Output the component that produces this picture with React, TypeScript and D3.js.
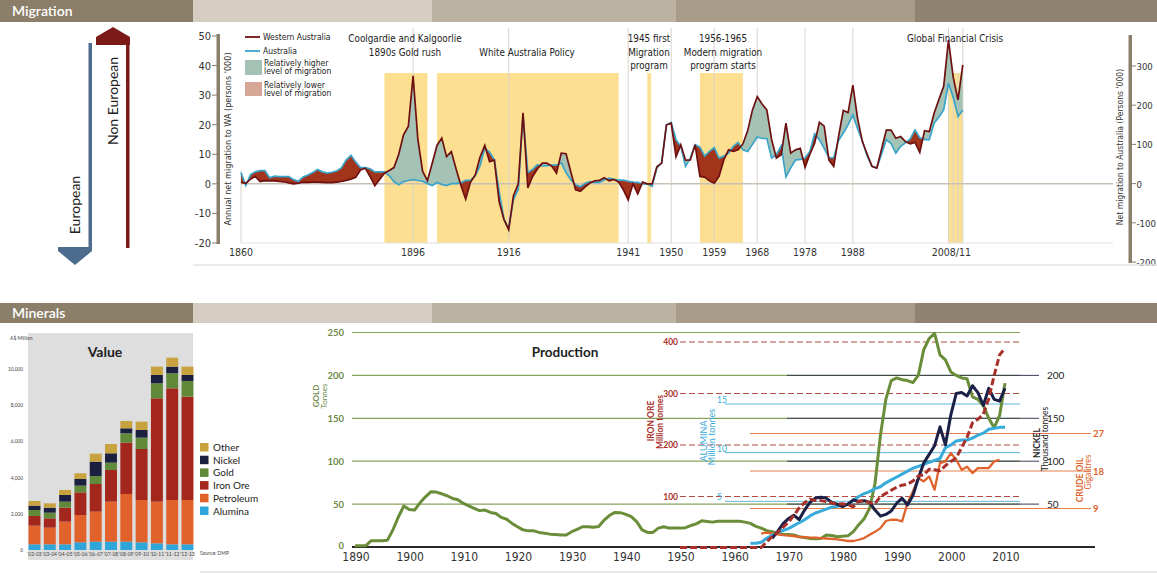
import React from "react";
import * as d3 from "d3";

// ---------------- DATA ----------------
const MIG_START = 1860;
// Annual net migration to WA ('000), 1860-2011
const MIG_WA = [
  0.5, 0.2, 1.6, 2.5, 0.8, 1.1, 1.0, 1.0, 0.8, 0.7,
  0.3, 0.0, 0.2, 0.6, 0.5, 0.6, 0.6, 0.5, 0.4, 0.4,
  0.6, 0.8, 1.2, 1.6, 2.2, 4.7, 5.3, 2.5, -0.6, 1.5,
  3.6, 4.5, 5.5, 10.0, 16.6, 19.4, 36.5, 15.0, 4.2, 1.1,
  7.0, 13.0, 15.5, 9.2, 10.9, 5.0, -0.5, -5.2, 0.5, 3.0,
  9.0, 13.0, 7.5, 8.0, -6.0, -12.0, -15.5, -4.0, 0.0, 24.0,
  -1.4, 2.5, 5.0, 7.0, 7.0, 6.0, 3.6, 10.4, 10.2, 4.0,
  -2.0, -2.5, -1.0, 0.3, 1.0, 1.2, 2.1, 1.0, 1.5, 0.6,
  -2.0, -5.4, 0.0, -3.4, 0.6, 0.0, 0.0, 5.8, 7.0, 19.9,
  20.5, 9.2, 13.2, 8.0, 8.1, 13.2, 2.5, 2.3, 1.0, 0.2,
  2.5, 8.1, 11.5, 11.0, 11.5, 13.5, 18.0, 25.0, 29.5, 27.0,
  25.0, 15.0, 8.7, 9.8, 20.5, 10.4, 11.5, 12.0, 5.6, 10.0,
  13.7, 20.8, 19.5, 8.0, 5.9, 16.0, 24.8, 24.1, 33.4, 22.0,
  14.3, 10.0, 5.9, 5.3, 11.7, 18.2, 18.2, 15.4, 16.0, 14.3,
  13.5, 14.0, 10.6, 18.0, 17.7, 23.9, 28.5, 33.0, 48.6, 36.0,
  28.4, 40.2,
];
// Net migration to Australia ('000), 1860-2011
const MIG_AUS = [
  28, -5, 23, 30, 33, 33, 15, 19, 18, 18,
  18, 10, 6, 17, 22, 28, 36, 30, 27, 29,
  32, 40, 60, 72, 55, 41, 41, 38, 30, 30,
  30, 20, 5, -3, 5, 8, 10, 8, 6, 0,
  -5, 3, -2, -5, 0, 0, 2, 8, 8, 20,
  45, 91, 80, 61, -20, -90, -115, -40, -15, 175,
  28, 36, 48, 45, 46, 47, 47, 53, 28, 10,
  -3, -8, 1, 5, 3, 3, 9, 14, 11, 9,
  9, 6, 4, 3, -1, -1, -7, 40, 53, 150,
  156, 112, 95, 44, 65, 99, 93, 70, 82, 92,
  65, 70, 78, 95, 105, 86, 82, 100, 119, 115,
  115, 65, 74, 96, 17, 40, 60, 62, 65, 82,
  127, 112, 90, 66, 66, 110, 129, 150, 175, 140,
  108, 70, 44, 40, 75, 112, 102, 78, 95, 104,
  114, 137, 117, 112, 112, 154, 170, 188, 256, 220,
  171, 188,
];
const MIG_TICK_YEARS = [1860, 1896, 1916, 1941, 1950, 1959, 1968, 1978, 1988];
const MIG_GRID_YEARS = [1896, 1916, 1941, 1950, 1959, 1968, 1978, 1988, 2008, 2009, 2010, 2011];
const BAND_START = [1890, 1901, 1945, 1956, 2008];
const BAND_END = [1899, 1939, 1945.8, 1965, 2011];
const LEFT_TICKS = [-20, -10, 0, 10, 20, 30, 40, 50];
const RIGHT_TICKS = [-200, -100, 0, 100, 200, 300];

// Production
const GOLD_START = 1890;
const GOLD = [
  1.5, 1.5, 1.5, 7.4, 7.4, 7.4, 8, 20, 35, 47.7,
  43.8, 43, 51.5, 58.5, 64.3, 64, 62, 59.7, 56.6, 55,
  50.8, 48, 45, 42.4, 43, 40.3, 39, 34.5, 32.3, 27.5,
  23.6, 20, 18.8, 18.8, 17, 16, 15, 14.7, 14, 14,
  17.8, 20.5, 23.6, 23.6, 23, 24, 31.4, 37, 40.3, 40,
  38, 35.3, 29.5, 20, 17, 17, 22, 23.6, 22, 22,
  22, 22.5, 25, 27, 30.5, 29.7, 29, 30, 30, 30,
  30, 30, 29, 27.5, 24, 22, 19, 17.8, 16, 15,
  14.5, 14, 12, 11, 10, 9.6, 10, 14, 13.5, 12,
  12.5, 13, 18, 26, 33, 45, 74, 130, 172, 194,
  197, 195, 194, 191.5, 200, 230, 243, 249, 224, 218,
  204, 200, 197, 196, 175, 172, 165, 150, 139, 153,
  191,
];
const IRON_START = 1950;
const IRON = [
  1, 1, 1, 1, 1, 1, 1, 1, 1, 1,
  1, 1, 1, 1, 1, 1, 12, 22, 30, 40,
  50, 63, 78, 88, 95, 92, 92, 90, 88, 85,
  86, 84, 80, 91, 92, 88, 86, 100, 106, 112,
  118, 122, 124, 130, 140, 142, 153, 152, 150, 160,
  168, 175, 195, 215, 243, 250, 260, 290, 335, 375,
  388,
];
const NICKEL_START = 1967;
const NICKEL = [
  10, 18, 27, 33, 37, 32, 43, 52, 57, 58,
  57, 52, 50, 47, 50, 55, 53, 54, 52, 43,
  36, 38, 42, 51, 57, 49, 60, 80, 98, 108,
  118, 140, 119, 154, 179, 180, 176, 188, 180, 165,
  185, 172, 170, 185,
];
const ALU_START = 1963;
const ALUMINA = [
  0.7, 0.7, 0.8, 1.2, 1.5, 1.8, 2.0, 2.2, 2.5, 2.8,
  3.1, 3.5, 3.8, 4.0, 4.2, 4.4, 4.5, 4.6, 4.7, 5.1,
  5.5, 5.8, 6.0, 6.3, 6.5, 6.9, 7.2, 7.5, 7.8, 8.1,
  8.4, 8.6, 8.8, 9.0, 9.2, 9.4, 10.5, 10.8, 11.2, 11.3,
  11.3, 11.5, 11.8, 12.0, 12.4, 12.5, 12.6, 12.6,
];
const OIL_START = 1965;
const OIL = [
  3.0, 3.2, 3.0, 2.8, 2.6, 2.5, 2.4, 2.2, 2.1, 2.0,
  2.0, 1.9, 1.8, 1.7, 1.6, 1.4, 1.2, 1.2, 1.5, 1.9,
  2.7, 3.4, 4.3, 6.0, 6.3, 6.3, 5.9, 10.3, 13.1, 16.3,
  15.5, 16.7, 13.5, 19.9, 20.3, 22.3, 20.7, 18.3, 19.0, 17.5,
  18.7, 18.7, 18.7, 20.3, 20.7,
];
const GOLD_TICKS = [0, 50, 100, 150, 200, 250];
const IRON_TICKS = [100, 200, 300, 400];
const ALU_TICKS = [5, 10, 15];
const NICKEL_TICKS = [50, 100, 150, 200];
const OIL_TICKS = [9, 18, 27];
const PROD_YEARS = [1890, 1900, 1910, 1920, 1930, 1940, 1950, 1960, 1970, 1980, 1990, 2000, 2010];

// Value (A$ million)
const VALUE_CATS = ["'02-03", "'03-04", "'04-05", "'05-06", "'06-07", "'07-08", "'08-09", "'09-10", "'10-11", "'11-12", "'12-13"];
const VALUE_KEYS = ["Alumina", "Petroleum", "Iron Ore", "Gold", "Nickel", "Other"];
const V_ALUMINA = [313, 313, 313, 424, 460, 460, 460, 424, 368, 313, 313];
const V_PETROLEUM = [1032, 921, 1253, 1510, 1658, 2211, 2635, 2339, 2303, 2450, 2450];
const V_IRON = [534, 516, 774, 1253, 1529, 1750, 2836, 2818, 5710, 6171, 5710];
const V_GOLD = [331, 313, 331, 368, 442, 405, 516, 626, 829, 829, 866];
const V_NICKEL = [240, 277, 368, 368, 792, 516, 276, 424, 461, 368, 332];
const V_OTHER = [258, 239, 277, 314, 442, 515, 406, 461, 460, 497, 460];
const VALUE_TICKS = [0, 2000, 4000, 6000, 8000, 10000];

// ---------------- STYLE ----------------
const FN = "'Liberation Sans Narrow','DejaVu Sans Condensed','Roboto Condensed',Roboto,sans-serif";
const FS = "Lato,'Open Sans','Noto Sans',sans-serif";
const C_WA = "#6e1010";
const C_AUS = "#3aa3c9";
const C_HIGH = "#a4c3b5";
const C_LOW = "#a2341b";
const C_BAND = "#fcdf90";
const C_TAUPE = "#8c7f6a";
const VALUE_COLORS: Record<string, string> = {
  Alumina: "#2ea6da",
  Petroleum: "#e2622c",
  "Iron Ore": "#a3271d",
  Gold: "#608a3a",
  Nickel: "#1b1f40",
  Other: "#c8a23f",
};
const C_GOLD = "#6a8d39";
const C_IRON = "#a8302a";
const C_ALU = "#38abda";
const C_NICKEL = "#1b2047";
const C_OIL = "#e0632b";

const HEADER_X = [0, 193, 432, 676, 915, 1157];
const HEADER_C = ["#8c7f6a", "#d5cdc1", "#bcb2a1", "#a89c88", "#8f8270"];

function Header({ y, h, label }: { y: number; h: number; label: string }) {
  return (
    <g>
      {HEADER_C.map((c, i) => (
        <rect key={i} x={HEADER_X[i]} y={y} width={HEADER_X[i + 1] - HEADER_X[i]} height={h} fill={c} />
      ))}
      <text x={12} y={y + h / 2 + 5} fill="#fff" fontFamily={FS} fontSize={14} fontWeight={600}>
        {label}
      </text>
    </g>
  );
}

function Migration() {
  const xM = d3.scaleLinear().domain([1860, 2011]).range([241, 962.8]);
  const yL = d3.scaleLinear().domain([-20, 50]).range([243, 36]);
  const yR = d3.scaleLinear().domain([-200, 300]).range([262, 66]);
  const data = MIG_WA.map((wa, i) => ({ year: MIG_START + i, wa, aus: MIG_AUS[i] }));
  type D = (typeof data)[number];
  const waLine = d3.line<D>().x((d) => xM(d.year)).y((d) => yL(d.wa));
  const ausLine = d3.line<D>().x((d) => xM(d.year)).y((d) => yR(d.aus));
  const diff = d3.area<D>().x((d) => xM(d.year)).y0((d) => yR(d.aus)).y1((d) => yL(d.wa));
  const clipA = d3.area<D>().x((d) => xM(d.year)).y0(0).y1((d) => yR(d.aus));
  const clipB = d3.area<D>().x((d) => xM(d.year)).y0(300).y1((d) => yR(d.aus));

  return (
    <g>
      <defs>
        <clipPath id="clipAbove"><path d={clipA(data) || ""} /></clipPath>
        <clipPath id="clipBelow"><path d={clipB(data) || ""} /></clipPath>
      </defs>
      {/* arrows */}
      <rect x={88.5} y={43} width={3.5} height={205} fill="#4d6b8c" />
      <polygon points="58,247 92,247 92,251 75,265 58,251" fill="#4d6b8c" />
      <rect x={126} y={44} width={3.5} height={204} fill="#7c1a1a" />
      <polygon points="96,45 96,37 113,27 130,37 130,45" fill="#7c1a1a" />
      <text transform="translate(80,205) rotate(-90)" textAnchor="middle" fontFamily={FS} fontSize={14} fill="#222">European</text>
      <text transform="translate(118,101) rotate(-90)" textAnchor="middle" fontFamily={FS} fontSize={14} fill="#222">Non European</text>

      {/* bands */}
      {BAND_START.map((s, i) => (
        <rect key={i} x={xM(s)} y={73} width={xM(BAND_END[i]) - xM(s)} height={243 - 73} fill={C_BAND} />
      ))}
      {/* grid */}
      {MIG_GRID_YEARS.map((yr) => (
        <line key={yr} x1={xM(yr)} x2={xM(yr)} y1={yr >= 2009 && yr <= 2010 ? 73 : 28} y2={243} stroke="#d8d4cd" strokeWidth={1} />
      ))}
      <line x1={xM(1860)} x2={xM(1860)} y1={170} y2={243} stroke="#d8d4cd" />
      <line x1={241} x2={1113} y1={yL(0)} y2={yL(0)} stroke="#c9c1b6" strokeWidth={1.5} />
      <line x1={241} x2={1113} y1={243} y2={243} stroke="#e4e0da" strokeWidth={1} />

      {/* difference areas */}
      <path d={diff(data) || ""} fill={C_HIGH} clipPath="url(#clipAbove)" />
      <path d={diff(data) || ""} fill={C_LOW} clipPath="url(#clipBelow)" />
      <path d={ausLine(data) || ""} fill="none" stroke={C_AUS} strokeWidth={1.7} />
      <path d={waLine(data) || ""} fill="none" stroke={C_WA} strokeWidth={1.7} />

      {/* left axis */}
      <rect x={216.5} y={34} width={3.5} height={210} fill={C_TAUPE} />
      {LEFT_TICKS.map((t) => (
        <g key={t}>
          <line x1={212} x2={217} y1={yL(t)} y2={yL(t)} stroke={C_TAUPE} strokeWidth={1} />
          <text x={211} y={yL(t) + 4} textAnchor="end" fontFamily={FN} fontSize={11} fill="#333">{t}</text>
        </g>
      ))}
      <text transform="translate(231,139) rotate(-90)" textAnchor="middle" fontFamily={FN} fontSize={9} fill="#333">
        Annual net migration to WA (persons '000)
      </text>
      {/* right axis */}
      <rect x={1128.5} y={35} width={3.5} height={228} fill={C_TAUPE} />
      {RIGHT_TICKS.map((t) => (
        <g key={t}>
          <line x1={1132} x2={1136} y1={yR(t)} y2={yR(t)} stroke={C_TAUPE} strokeWidth={1} />
          <text x={1136.5} y={yR(t) + 4} fontFamily={FN} fontSize={9.5} fill="#333">{t}</text>
        </g>
      ))}
      <text transform="translate(1123,147) rotate(-90)" textAnchor="middle" fontFamily={FN} fontSize={8.5} fill="#333">
        Net migration to Australia (Persons '000)
      </text>

      {/* x labels */}
      {MIG_TICK_YEARS.map((yr) => (
        <text key={yr} x={xM(yr)} y={256} textAnchor="middle" fontFamily={FN} fontSize={10.5} fill="#333">{yr}</text>
      ))}
      <text x={xM(2008.6)} y={256} textAnchor="middle" fontFamily={FN} fontSize={10.5} fill="#333">2008/11</text>

      {/* legend */}
      <line x1={245} x2={260} y1={37} y2={37} stroke={C_WA} strokeWidth={1.8} />
      <text x={263} y={40} fontFamily={FN} fontSize={8.5} fill="#222">Western Australia</text>
      <line x1={245} x2={260} y1={51} y2={51} stroke={C_AUS} strokeWidth={1.8} />
      <text x={263} y={54} fontFamily={FN} fontSize={8.5} fill="#222">Australia</text>
      <rect x={245} y={60} width={17} height={15} fill={C_HIGH} />
      <text x={264} y={66} fontFamily={FN} fontSize={8.5} fill="#222">Relatively higher</text>
      <text x={264} y={74} fontFamily={FN} fontSize={8.5} fill="#222">level of migration</text>
      <rect x={245} y={82} width={17} height={14} fill="#d6a797" />
      <text x={264} y={88} fontFamily={FN} fontSize={8.5} fill="#222">Relatively lower</text>
      <text x={264} y={96} fontFamily={FN} fontSize={8.5} fill="#222">level of migration</text>

      {/* annotations */}
      <g fontFamily={FN} fontSize={9.8} fill="#222" textAnchor="middle">
        <text x={405} y={42}>Coolgardie and Kalgoorlie</text>
        <text x={405} y={56}>1890s Gold rush</text>
        <text x={527} y={56}>White Australia Policy</text>
        <text x={649} y={42}>1945 first</text>
        <text x={649} y={56}>Migration</text>
        <text x={649} y={69}>program</text>
        <text x={723} y={42}>1956-1965</text>
        <text x={723} y={56}>Modern migration</text>
        <text x={723} y={69}>program starts</text>
        <text x={955} y={42}>Global Financial Crisis</text>
      </g>
      <line x1={193} x2={1157} y1={265} y2={265} stroke="#e6e3de" strokeWidth={1.5} />
    </g>
  );
}

function ValueChart() {
  const rows = VALUE_CATS.map((c, i) => ({
    cat: c,
    Alumina: V_ALUMINA[i],
    Petroleum: V_PETROLEUM[i],
    "Iron Ore": V_IRON[i],
    Gold: V_GOLD[i],
    Nickel: V_NICKEL[i],
    Other: V_OTHER[i],
  }));
  const xV = d3.scaleBand().domain(VALUE_CATS).range([27, 195]).paddingInner(0.22).paddingOuter(0.1);
  const yV = d3.scaleLinear().domain([0, 10000]).range([550, 369]);
  const series = d3.stack<any>().keys(VALUE_KEYS)(rows);
  const fmt = d3.format(",");
  const legendOrder = [...VALUE_KEYS].reverse();
  return (
    <g>
      <rect x={28} y={333} width={165} height={227} fill="#dedede" />
      <text x={10} y={340} fontFamily={FS} fontSize={5} fill="#444">A$ Million</text>
      {VALUE_TICKS.map((t) => (
        <text key={t} x={23} y={yV(t) + 2} textAnchor="end" fontFamily={FS} fontSize={4.8} fill="#444">{fmt(t)}</text>
      ))}
      <text x={105} y={357} textAnchor="middle" fontFamily={FS} fontSize={14} fontWeight={700} fill="#222">Value</text>
      {series.map((s) => (
        <g key={s.key} fill={VALUE_COLORS[s.key]}>
          {s.map((d, i) => (
            <rect key={i} x={xV(VALUE_CATS[i])} y={yV(d[1])} width={xV.bandwidth()} height={yV(d[0]) - yV(d[1])} />
          ))}
        </g>
      ))}
      {VALUE_CATS.map((c) => (
        <text key={c} x={(xV(c) || 0) + xV.bandwidth() / 2} y={555.5} textAnchor="middle" fontFamily={FS} fontSize={5} fill="#444">{c}</text>
      ))}
      {legendOrder.map((k, i) => (
        <g key={k}>
          <rect x={200} y={443 + i * 12.7} width={8.5} height={8.5} fill={VALUE_COLORS[k]} />
          <text x={213} y={451 + i * 12.7} fontFamily={FS} fontSize={10} fill="#222">{k}</text>
        </g>
      ))}
      <text x={200} y={555} fontFamily={FS} fontSize={5} fill="#444">Source: DMP</text>
    </g>
  );
}

function Production() {
  const xP = d3.scaleLinear().domain([1890, 2010]).range([355, 1005]);
  const yGold = d3.scaleLinear().domain([0, 250]).range([547, 332.5]);
  const yIron = d3.scaleLinear().domain([0, 400]).range([548, 342]);
  const yAlu = d3.scaleLinear().domain([0, 15]).range([550, 404]);
  const yOil = d3.scaleLinear().domain([0, 27]).range([546, 433.5]);
  const mk = (start: number, vals: number[]) => vals.map((v, i) => ({ year: start + i, v }));
  const line = (y: d3.ScaleLinear<number, number>) =>
    d3.line<{ year: number; v: number }>().x((d) => xP(d.year)).y((d) => y(d.v));
  return (
    <g>
      {/* gold grid */}
      {GOLD_TICKS.map((t) => (
        <g key={"g" + t}>
          {t > 0 && <line x1={352} x2={1020} y1={yGold(t)} y2={yGold(t)} stroke="#86a25c" strokeWidth={1.2} />}
          <text x={344} y={yGold(t) + (t === 0 ? 1.5 : 3.5)} textAnchor="end" fontFamily={FS} fontSize={9.5} fontWeight={700} fill="#6e8a48">{t}</text>
        </g>
      ))}
      {/* nickel grid */}
      {NICKEL_TICKS.map((t) => (
        <g key={"n" + t}>
          <line x1={787} x2={1039} y1={yGold(t)} y2={yGold(t)} stroke="#3a3f55" strokeWidth={1} />
          <text x={1047} y={yGold(t) + 4} fontFamily={FS} fontSize={10} fill="#222">{t}</text>
        </g>
      ))}
      {/* iron grid */}
      {IRON_TICKS.map((t) => (
        <g key={"i" + t}>
          <line x1={680} x2={1020} y1={yIron(t)} y2={yIron(t)} stroke="#b44a3f" strokeWidth={1.2} strokeDasharray="6,3" />
          <text x={678} y={yIron(t) + 3} textAnchor="end" fontFamily={FS} fontSize={8.5} fontWeight={700} fill={C_IRON}>{t}</text>
        </g>
      ))}
      {/* alumina grid */}
      {ALU_TICKS.map((t) => (
        <g key={"a" + t}>
          <line x1={725} x2={1020} y1={yAlu(t)} y2={yAlu(t)} stroke="#5db6de" strokeWidth={1} />
          <text x={717} y={yAlu(t) - 1} fontFamily={FS} fontSize={8.5} fill={C_ALU}>{t}</text>
        </g>
      ))}
      {/* oil grid */}
      {OIL_TICKS.map((t) => (
        <g key={"o" + t}>
          <line x1={750} x2={1091} y1={yOil(t)} y2={yOil(t)} stroke="#e4804f" strokeWidth={1} />
          <text x={1093} y={yOil(t) + 3.5} fontFamily={FS} fontSize={9.5} fontWeight={700} fill={C_OIL}>{t}</text>
        </g>
      ))}

      {/* axis titles */}
      <text x={565} y={357} textAnchor="middle" fontFamily={FS} fontSize={13.5} fontWeight={700} fill="#222">Production</text>
      <text transform="translate(319,396) rotate(-90)" textAnchor="middle" fontFamily={FS} fontSize={8} fontWeight={700} fill="#6e8a48">GOLD</text>
      <text transform="translate(327,396) rotate(-90)" textAnchor="middle" fontFamily={FS} fontSize={8} fill="#6e8a48">Tonnes</text>
      <text transform="translate(654,421) rotate(-90)" textAnchor="middle" fontFamily={FS} fontSize={8.5} fontWeight={700} fill={C_IRON}>IRON ORE</text>
      <text transform="translate(663,422) rotate(-90)" textAnchor="middle" fontFamily={FS} fontSize={8.5} fontWeight={700} fill={C_IRON}>Million tonnes</text>
      <text transform="translate(707,441) rotate(-90)" textAnchor="middle" fontFamily={FS} fontSize={9} fill={C_ALU}>ALUMINA</text>
      <text transform="translate(715,437) rotate(-90)" textAnchor="middle" fontFamily={FS} fontSize={9} fill={C_ALU}>Million tonnes</text>
      <text transform="translate(1040,443) rotate(-90)" textAnchor="middle" fontFamily={FS} fontSize={8.5} fontWeight={700} fill="#222">NICKEL</text>
      <text transform="translate(1048,439) rotate(-90)" textAnchor="middle" fontFamily={FS} fontSize={8.5} fill="#222">Thousand tonnes</text>
      <text transform="translate(1083,480) rotate(-90)" textAnchor="middle" fontFamily={FS} fontSize={8.5} fontWeight={700} fill={C_OIL}>CRUDE OIL</text>
      <text transform="translate(1091,472) rotate(-90)" textAnchor="middle" fontFamily={FS} fontSize={8.5} fill={C_OIL}>Gigalitres</text>

      {/* baseline */}
      <line x1={352} x2={1095} y1={547} y2={547} stroke="#2a2a2a" strokeWidth={2} />

      {/* series */}
      <path d={line(yGold)(mk(GOLD_START, GOLD)) || ""} fill="none" stroke={C_GOLD} strokeWidth={3} strokeLinejoin="round" />
      <path d={line(yOil)(mk(OIL_START, OIL)) || ""} fill="none" stroke={C_OIL} strokeWidth={2.3} strokeLinejoin="round" />
      <path d={line(yAlu)(mk(ALU_START, ALUMINA)) || ""} fill="none" stroke={C_ALU} strokeWidth={3} strokeLinejoin="round" />
      <path d={line(yGold)(mk(NICKEL_START, NICKEL)) || ""} fill="none" stroke={C_NICKEL} strokeWidth={3} strokeLinejoin="round" />
      <path d={line(yIron)(mk(IRON_START, IRON)) || ""} fill="none" stroke={C_IRON} strokeWidth={3} strokeDasharray="7,3" strokeLinejoin="round" />

      {/* x labels */}
      {PROD_YEARS.map((yr) => (
        <text key={yr} x={xP(yr) + 1} y={561} textAnchor="middle" fontFamily={FN} fontSize={12} fill="#333">{yr}</text>
      ))}
      <line x1={200} x2={1157} y1={572} y2={572} stroke="#e4e1dc" strokeWidth={1.5} />
    </g>
  );
}

export default function App() {
  return (
    <svg width={1157} height={574} viewBox="0 0 1157 574" style={{ position: "absolute", left: 0, top: 0, background: "#fff" }}>
      <rect width={1157} height={574} fill="#fff" />
      <Header y={0} h={22} label="Migration" />
      <Migration />
      <Header y={303} h={20} label="Minerals" />
      <ValueChart />
      <Production />
    </svg>
  );
}
